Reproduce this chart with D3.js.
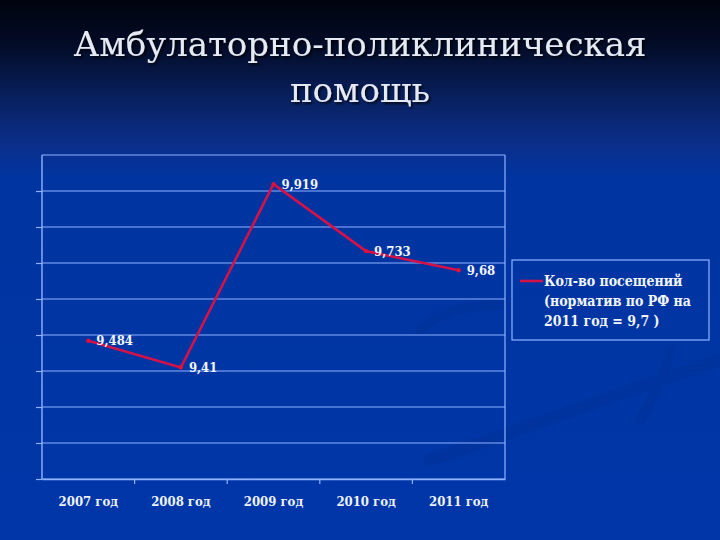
<!DOCTYPE html>
<html>
<head>
<meta charset="utf-8">
<script src="https://cdn.jsdelivr.net/npm/d3@7"></script>
<style>
  html, body { margin: 0; padding: 0; background: #0033a0; }
  svg { display: block; }
</style>
</head>
<body>
<svg id="chart" width="720" height="540"></svg>
<script>
const categories = ["2007 год", "2008 год", "2009 год", "2010 год", "2011 год"];
const visits = [9.484, 9.41, 9.919, 9.733, 9.68];
const valueLabels = ["9,484", "9,41", "9,919", "9,733", "9,68"];
const yTicks = [9.1, 9.2, 9.3, 9.4, 9.5, 9.6, 9.7, 9.8, 9.9, 10.0];
const titleLines = ["Амбулаторно-поликлиническая", "помощь"];
const legendLines = ["Кол-во посещений", "(норматив по РФ на", "2011 год = 9,7 )"];

const serif = "'DejaVu Serif', 'Liberation Serif', serif";
const condSerif = "'DejaVu Serif Condensed', 'DejaVu Serif', 'Liberation Serif', serif";

const svg = d3.select("#chart");
const W = 720, H = 540;

// background gradient
const defs = svg.append("defs");
const bg = defs.append("linearGradient").attr("id", "bg").attr("x1", 0).attr("y1", 0).attr("x2", 0).attr("y2", 1);
[[0, "#01040e"], [0.08, "#030b26"], [0.18, "#08205e"], [0.27, "#0b2f8c"], [0.33, "#0034a0"], [1, "#0036a8"]]
  .forEach(([o, c]) => bg.append("stop").attr("offset", o).attr("stop-color", c));
const sh = defs.append("filter").attr("id", "shadow").attr("x", "-10%").attr("y", "-30%").attr("width", "120%").attr("height", "160%");
sh.append("feDropShadow").attr("dx", 2).attr("dy", 2).attr("stdDeviation", 1).attr("flood-color", "#000").attr("flood-opacity", 0.7);
svg.append("rect").attr("width", W).attr("height", H).attr("fill", "url(#bg)");

// faint decorative swooshes
const deco = svg.append("g").attr("fill", "none").attr("stroke", "#00308f").attr("stroke-linecap", "round").attr("opacity", 0.35);
deco.append("path").attr("d", "M430,460 C520,430 600,400 720,360").attr("stroke-width", 12);
deco.append("path").attr("d", "M420,330 C440,310 470,305 500,305").attr("stroke-width", 10);
deco.append("path").attr("d", "M640,420 C655,395 665,375 670,350").attr("stroke-width", 10);

// title
svg.append("g").attr("font-family", serif).attr("text-anchor", "middle")
  .attr("filter", "url(#shadow)")
  .selectAll("text").data(titleLines).join("text")
  .attr("x", 360)
  .attr("y", (d, i) => 56 + i * 46)
  .attr("font-size", 34)
  .attr("fill", "#e6eaf3")
  .text(d => d);

// plot
const plot = { left: 42, right: 505, top: 155, bottom: 479 };
const x = d3.scaleBand().domain(categories).range([plot.left, plot.right]);
const y = d3.scaleLinear().domain([9.1, 10.0]).range([plot.bottom, plot.top]);
const gridColor = "#8fb2ff";

const g = svg.append("g");

// gridlines
g.append("g").selectAll("line").data(yTicks).join("line")
  .attr("x1", plot.left).attr("x2", plot.right)
  .attr("y1", d => y(d)).attr("y2", d => y(d))
  .attr("stroke", gridColor).attr("stroke-width", 1.2);

// right border
g.append("line").attr("x1", plot.right).attr("x2", plot.right).attr("y1", plot.top).attr("y2", plot.bottom)
  .attr("stroke", gridColor).attr("stroke-width", 1.2);

// y axis (no labels)
const yAxis = d3.axisLeft(y).tickValues(yTicks.slice(0, -1)).tickSize(6).tickFormat("");
const ya = g.append("g").attr("transform", `translate(${plot.left},0)`).call(yAxis);
ya.select(".domain").attr("stroke", gridColor).attr("stroke-width", 1.4).attr("d", `M-0,${plot.top}V${plot.bottom}`);
ya.selectAll(".tick line").attr("stroke", gridColor).attr("stroke-width", 1.2);

// x axis
const xAxis = d3.axisBottom(x).tickSize(0).tickPadding(18);
const xa = g.append("g").attr("transform", `translate(0,${plot.bottom})`).call(xAxis);
xa.select(".domain").attr("stroke", gridColor).attr("stroke-width", 1.6);
xa.selectAll(".tick text")
  .attr("font-family", condSerif)
  .attr("font-weight", "bold").attr("font-size", 13).attr("fill", "#eef2fa");
// boundary ticks between categories
g.append("g").selectAll("line").data(categories.slice(1)).join("line")
  .attr("x1", d => x(d)).attr("x2", d => x(d))
  .attr("y1", plot.bottom).attr("y2", plot.bottom + 5)
  .attr("stroke", gridColor).attr("stroke-width", 1.2);

// line
const cx = d => x(d) + x.bandwidth() / 2;
const line = d3.line().x((d, i) => cx(categories[i])).y(d => y(d));
g.append("path").datum(visits).attr("d", line)
  .attr("fill", "none").attr("stroke", "#d2124a").attr("stroke-width", 2.6).attr("stroke-linejoin", "round");
g.append("g").selectAll("circle").data(visits).join("circle")
  .attr("cx", (d, i) => cx(categories[i])).attr("cy", d => y(d)).attr("r", 2.2).attr("fill", "#e0103a");

// data labels
g.append("g").selectAll("text").data(visits).join("text")
  .attr("x", (d, i) => cx(categories[i]) + 8)
  .attr("y", d => y(d))
  .attr("dy", "0.35em")
  .attr("font-family", condSerif)
  .attr("font-weight", "bold").attr("font-size", 13).attr("fill", "#f2f5fb")
  .text((d, i) => valueLabels[i]);

// legend
const leg = svg.append("g");
leg.append("rect").attr("x", 512).attr("y", 260).attr("width", 197).attr("height", 80)
  .attr("fill", "none").attr("stroke", gridColor).attr("stroke-width", 1.2);
leg.append("line").attr("x1", 520).attr("x2", 543).attr("y1", 281).attr("y2", 281)
  .attr("stroke", "#d2124a").attr("stroke-width", 2.6);
leg.selectAll("text").data(legendLines).join("text")
  .attr("x", 544)
  .attr("y", (d, i) => 286 + i * 20)
  .attr("font-family", condSerif)
  .attr("font-weight", "bold").attr("font-size", 14).attr("fill", "#f2f5fb")
  .text(d => d);
</script>
</body>
</html>
